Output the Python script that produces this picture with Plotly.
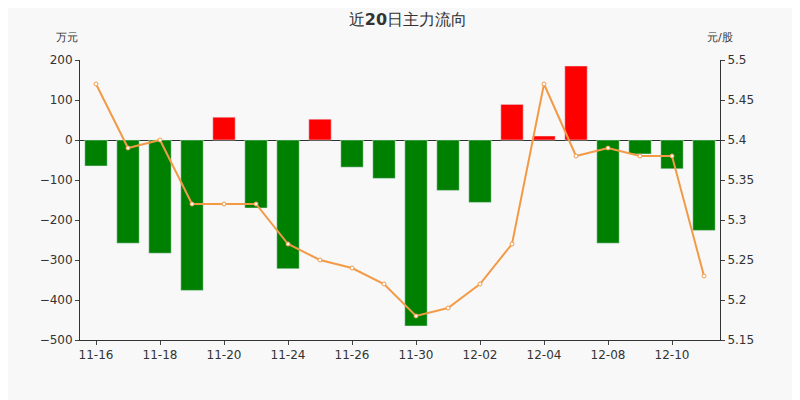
import plotly.graph_objects as go

dates = ["11-16", "11-17", "11-18", "11-19", "11-20", "11-23", "11-24", "11-25", "11-26", "11-27",
         "11-30", "12-01", "12-02", "12-03", "12-04", "12-07", "12-08", "12-09", "12-10", "12-11"]
flow = [-65, -258, -283, -376, 57, -170, -322, 52, -68, -96,
        -465, -126, -156, 89, 10, 185, -258, -35, -72, -226]
price = [5.47, 5.39, 5.40, 5.32, 5.32, 5.32, 5.27, 5.25, 5.24, 5.22,
         5.18, 5.19, 5.22, 5.27, 5.47, 5.38, 5.39, 5.38, 5.38, 5.23]

colors = ["#ff0000" if v > 0 else "#008000" for v in flow]
font = "DejaVu Sans"

fig = go.Figure()
fig.add_trace(go.Bar(x=dates, y=flow, marker_color=colors, width=0.7, showlegend=False))
fig.add_trace(go.Scatter(x=dates, y=price, yaxis="y2", mode="lines+markers",
                         line=dict(color="#f39a47", width=2),
                         marker=dict(size=4, color="white", line=dict(color="#f39a47", width=1)),
                         showlegend=False))

fig.update_layout(
    width=800, height=400,
    paper_bgcolor="#f8f8f8", plot_bgcolor="#f8f8f8",
    margin=dict(l=72, r=88, t=52, b=68, autoexpand=False),
    font=dict(family=font, size=12, color="#333"),
    title=dict(text="近<b>20</b>日主力流向", x=0.5, y=0.985, xanchor="center", yanchor="top",
               font=dict(size=16, color="#333")),
    xaxis=dict(type="category", range=[-0.5, 19.5], tickvals=dates[::2], ticks="outside", ticklen=4,
               showline=True, linecolor="#333", showgrid=False, tickfont=dict(size=12)),
    yaxis=dict(range=[-500, 200], dtick=100, showgrid=False, zeroline=True,
               zerolinecolor="#333", zerolinewidth=1, showline=True, linecolor="#333",
               ticks="outside", ticklen=4),
    yaxis2=dict(range=[5.15, 5.5], dtick=0.05, overlaying="y", side="right",
                showgrid=False, showline=True, linecolor="#333", ticks="outside", ticklen=4,
                zeroline=False),
    annotations=[
        dict(text="万元", xref="paper", yref="paper", x=0, y=1.05, xanchor="right",
             yanchor="bottom", showarrow=False, font=dict(size=11)),
        dict(text="元/股", xref="paper", yref="paper", x=1.0, y=1.05, xanchor="center",
             yanchor="bottom", showarrow=False, font=dict(size=11)),
    ],
)

fig.write_html("out.html")
